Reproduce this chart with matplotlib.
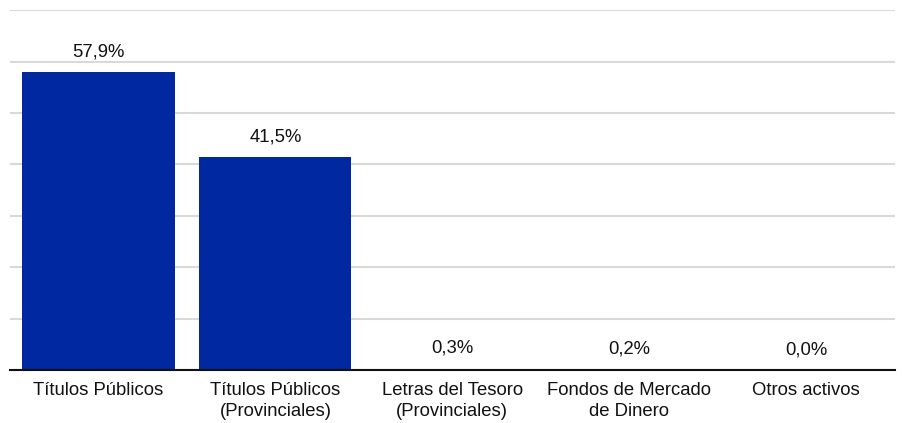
import matplotlib.pyplot as plt

categorias = ["Títulos Públicos", "Títulos Públicos\n(Provinciales)", "Letras del Tesoro\n(Provinciales)",
              "Fondos de Mercado\nde Dinero", "Otros activos"]
valores = [57.9, 41.5, 0.3, 0.2, 0.0]
etiquetas = ["57,9%", "41,5%", "0,3%", "0,2%", "0,0%"]

plt.rcParams["font.family"] = ["Liberation Sans", "DejaVu Sans"]

fig = plt.figure(figsize=(9.02, 4.23), dpi=100)
ax = fig.add_axes([0.011, 0.125, 0.981, 0.851])

x = range(len(categorias))
bars = ax.bar(x, valores, width=0.86, color="#0028a0", zorder=2)

for b, lab in zip(bars, etiquetas):
    ax.annotate(lab, (b.get_x() + b.get_width() / 2, b.get_height()),
                xytext=(0, 14.5), textcoords="offset points",
                ha="center", va="center", fontsize=13.3, color="#111111")

ax.set_xlim(-0.5, 4.5)
ax.set_ylim(0, 70)
ax.set_yticks(range(0, 71, 10))
ax.yaxis.grid(True, color="#d9d9d9", linewidth=1.5, zorder=0)
ax.tick_params(axis="y", left=False, labelleft=False)
ax.tick_params(axis="x", bottom=False, labelsize=13.3, pad=5, colors="#111111")
ax.set_xticks(list(x))
ax.set_xticklabels(categorias, linespacing=1.3)

for s in ["top", "right", "left"]:
    ax.spines[s].set_visible(False)
ax.spines["bottom"].set_color("#111111")
ax.spines["bottom"].set_linewidth(1.5)
ax.spines["bottom"].set_zorder(3)

fig.savefig("out.png", dpi=100)
